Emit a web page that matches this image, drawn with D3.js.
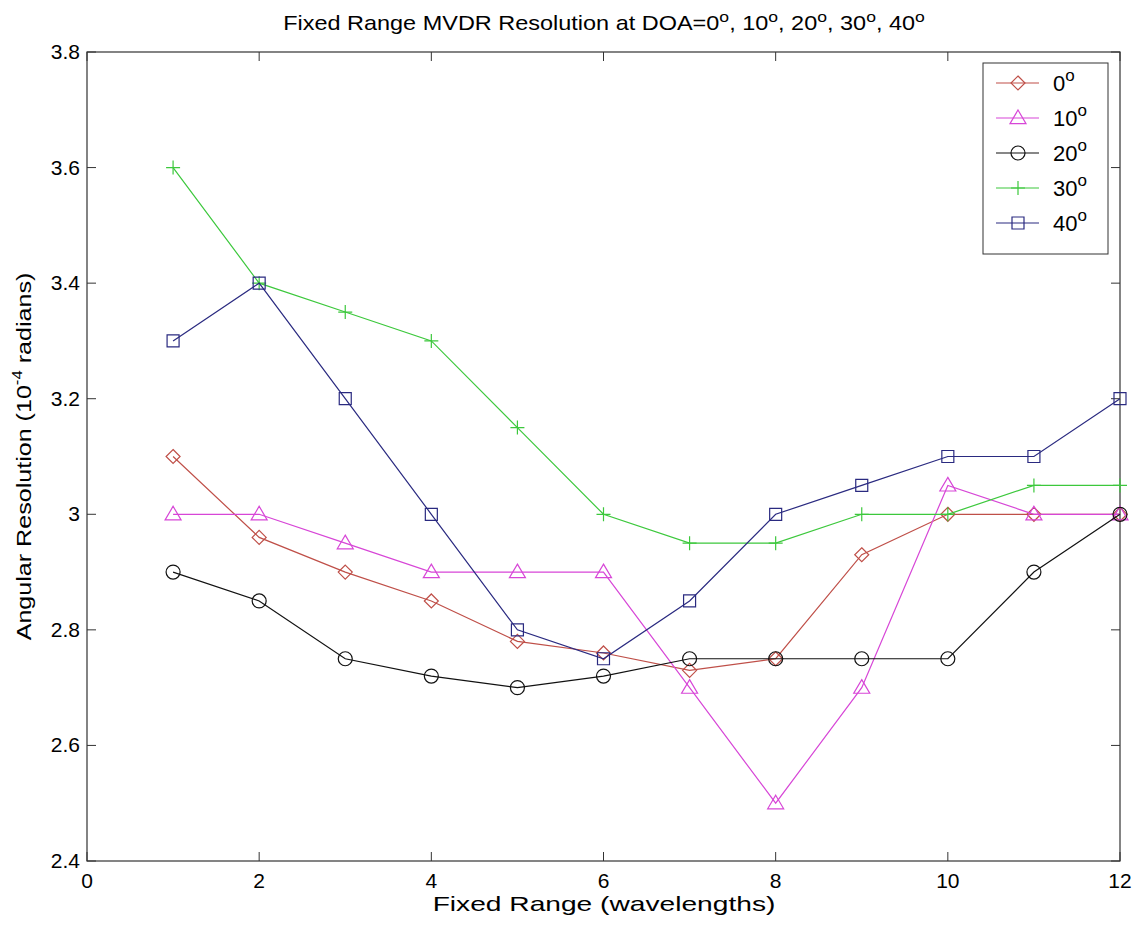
<!DOCTYPE html>
<html lang="en">
<head>
<meta charset="utf-8">
<title>Fixed Range MVDR Resolution</title>
<script src="https://cdnjs.cloudflare.com/ajax/libs/d3/7.8.5/d3.min.js"></script>
<style>
  html, body { margin: 0; padding: 0; background: white; }
  svg { display: block; font-family: "Liberation Sans", Arial, sans-serif; }
</style>
</head>
<body>
<svg id="chart" width="1141" height="931"></svg>
<script>
// data
var ranges = [1, 2, 3, 4, 5, 6, 7, 8, 9, 10, 11, 12];
var doa0  = [3.10, 2.96, 2.90, 2.85, 2.78, 2.76, 2.73, 2.75, 2.93, 3.00, 3.00, 3.00];
var doa10 = [3.00, 3.00, 2.95, 2.90, 2.90, 2.90, 2.70, 2.50, 2.70, 3.05, 3.00, 3.00];
var doa20 = [2.90, 2.85, 2.75, 2.72, 2.70, 2.72, 2.75, 2.75, 2.75, 2.75, 2.90, 3.00];
var doa30 = [3.60, 3.40, 3.35, 3.30, 3.15, 3.00, 2.95, 2.95, 3.00, 3.00, 3.05, 3.05];
var doa40 = [3.30, 3.40, 3.20, 3.00, 2.80, 2.75, 2.85, 3.00, 3.05, 3.10, 3.10, 3.20];
var seriesNames = ["0", "10", "20", "30", "40"];
var xTicks = [0, 2, 4, 6, 8, 10, 12];
var yTicks = [2.4, 2.6, 2.8, 3.0, 3.2, 3.4, 3.6, 3.8];

var series = [
  { name: seriesNames[0], values: doa0,  color: "#bf4f48", marker: "diamond" },
  { name: seriesNames[1], values: doa10, color: "#d746d7", marker: "triangle" },
  { name: seriesNames[2], values: doa20, color: "#111111", marker: "circle" },
  { name: seriesNames[3], values: doa30, color: "#3cc83c", marker: "plus" },
  { name: seriesNames[4], values: doa40, color: "#2a2a80", marker: "square" }
];

// plot box edges (window.top is reserved, so use other names)
var boxL = 87, boxR = 1120, boxT = 52, boxB = 861;

var svg = d3.select("#chart");

var x = d3.scaleLinear().domain([0, 12]).range([boxL, boxR]);
var y = d3.scaleLinear().domain([2.4, 3.8]).range([boxB, boxT]);

// marker shapes, matlab style (hollow)
function markerPath(type, cx, cy) {
  var p = d3.path();
  if (type === "diamond") {
    var s = 7;
    p.moveTo(cx, cy - s); p.lineTo(cx + s, cy); p.lineTo(cx, cy + s); p.lineTo(cx - s, cy); p.closePath();
  } else if (type === "triangle") {
    var t = 8;
    p.moveTo(cx, cy - t); p.lineTo(cx + t, cy + t * 0.7); p.lineTo(cx - t, cy + t * 0.7); p.closePath();
  } else if (type === "circle") {
    p.moveTo(cx + 7, cy); p.arc(cx, cy, 7, 0, 2 * Math.PI);
  } else if (type === "plus") {
    p.moveTo(cx - 7, cy); p.lineTo(cx + 7, cy); p.moveTo(cx, cy - 7); p.lineTo(cx, cy + 7);
  } else if (type === "square") {
    p.rect(cx - 6, cy - 6, 12, 12);
  }
  return p.toString();
}

// the original figure's text is a bit wider than Liberation Sans, stretch it to fit
function stretchTo(g, txt, width, base) {
  var w = txt.node().getBBox().width;
  g.attr("transform", base + " scale(" + (width / w) + ",1)");
}

// plot box
svg.append("rect")
  .attr("x", boxL).attr("y", boxT)
  .attr("width", boxR - boxL).attr("height", boxB - boxT)
  .style("fill", "white")
  .style("stroke", "#333")
  .style("stroke-width", 1.2);

// ticks, inward on all four sides
var tickLen = 9;
var tickG = svg.append("g").style("stroke", "#333").style("stroke-width", 1);
xTicks.forEach(function(t) {
  tickG.append("line").attr("x1", x(t)).attr("x2", x(t)).attr("y1", boxB).attr("y2", boxB - tickLen);
  tickG.append("line").attr("x1", x(t)).attr("x2", x(t)).attr("y1", boxT).attr("y2", boxT + tickLen);
});
yTicks.forEach(function(t) {
  tickG.append("line").attr("x1", boxL).attr("x2", boxL + tickLen).attr("y1", y(t)).attr("y2", y(t));
  tickG.append("line").attr("x1", boxR).attr("x2", boxR - tickLen).attr("y1", y(t)).attr("y2", y(t));
});

// tick labels
svg.append("g").selectAll("text").data(xTicks).enter().append("text")
  .attr("x", function(d) { return x(d); })
  .attr("y", boxB + 27)
  .attr("text-anchor", "middle")
  .style("font-size", "21px")
  .text(function(d) { return d; });

svg.append("g").selectAll("text").data(yTicks).enter().append("text")
  .attr("x", boxL - 7)
  .attr("y", function(d) { return y(d) + 7; })
  .attr("text-anchor", "end")
  .style("font-size", "21px")
  .text(function(d) { return d === 3 ? "3" : d3.format(".1f")(d); });

// lines + markers
var line = d3.line()
  .x(function(d, i) { return x(ranges[i]); })
  .y(function(d) { return y(d); });

series.forEach(function(s) {
  var g = svg.append("g");
  g.append("path")
    .datum(s.values)
    .attr("d", line)
    .style("fill", "none")
    .style("stroke", s.color)
    .style("stroke-width", 1.2);
  g.selectAll("path.m").data(s.values).enter().append("path")
    .attr("class", "m")
    .attr("d", function(d, i) { return markerPath(s.marker, x(ranges[i]), y(d)); })
    .style("fill", "none")
    .style("stroke", s.color)
    .style("stroke-width", 1.2);
});

// legend
var lg = svg.append("g");
lg.append("rect")
  .attr("x", 983).attr("y", 63).attr("width", 125).attr("height", 191)
  .style("fill", "white").style("stroke", "#333").style("stroke-width", 1);
series.forEach(function(s, i) {
  var ly = 83 + i * 35;
  lg.append("line").attr("x1", 996).attr("x2", 1039).attr("y1", ly).attr("y2", ly)
    .style("stroke", s.color).style("stroke-width", 1.2);
  lg.append("path").attr("d", markerPath(s.marker, 1018, ly))
    .style("fill", "none").style("stroke", s.color).style("stroke-width", 1.2);
  var t = lg.append("text").attr("x", 1053).attr("y", ly + 8).style("font-size", "22px");
  t.append("tspan").text(s.name);
  t.append("tspan").attr("dy", -10).style("font-size", "17px").text("o");
});

// title
var titleG = svg.append("g");
var title = titleG.append("text")
  .attr("text-anchor", "middle")
  .style("font-size", "20px");
title.append("tspan").text("Fixed Range MVDR Resolution at DOA=");
seriesNames.forEach(function(n, i) {
  title.append("tspan").attr("dy", i === 0 ? 0 : 8).text((i === 0 ? "" : ", ") + n);
  title.append("tspan").attr("dy", -8).style("font-size", "15px").text("o");
});
stretchTo(titleG, title, 642, "translate(604,30)");

// axis labels
var xlG = svg.append("g");
var xl = xlG.append("text")
  .attr("text-anchor", "middle")
  .style("font-size", "21px")
  .text("Fixed Range (wavelengths)");
stretchTo(xlG, xl, 343, "translate(604,911)");

var ylG = svg.append("g");
var yl = ylG.append("text")
  .attr("text-anchor", "middle")
  .style("font-size", "21px");
yl.append("tspan").text("Angular Resolution (10");
yl.append("tspan").attr("dy", -9).style("font-size", "14px").text("-4");
yl.append("tspan").attr("dy", 9).text(" radians)");
stretchTo(ylG, yl, 368, "translate(31," + ((boxT + boxB) / 2) + ") rotate(-90)");
</script>
</body>
</html>
